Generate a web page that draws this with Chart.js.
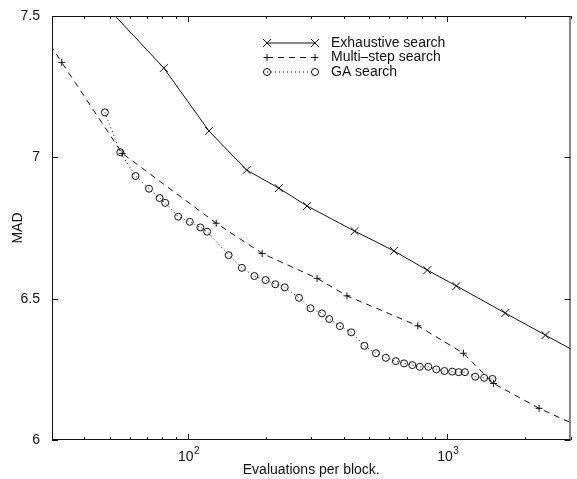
<!DOCTYPE html>
<html>
<head>
<meta charset="utf-8">
<script src="https://cdn.jsdelivr.net/npm/chart.js@4/dist/chart.umd.min.js"></script>
<style>
  html, body { margin: 0; padding: 0; background: #fff; }
</style>
</head>
<body>
<canvas id="chart" width="577" height="479"></canvas>
<script>
// axis ranges and ticks
const xMin = 30, xMax = 3000;
const yMin = 6, yMax = 7.5;
const xTickValues = [30, 40, 50, 60, 70, 80, 90, 100, 200, 300, 400, 500, 600, 700, 800, 900, 1000, 2000, 3000];
const xMajorTicks = [100, 1000];
const xMajorBase = "10";
const xMajorExponents = ["2", "3"];
const yTickValues = [6, 6.5, 7, 7.5];

const seriesNames = ["Exhaustive search", "Multi\u2013step search", "GA search"];

// Exhaustive search (first and last points lie just outside the axes)
const exhaustiveEvals = [49, 81, 121, 169, 225, 289, 441, 625, 841, 1089, 1681, 2401, 3249];
const exhaustiveMad = [7.53, 7.316, 7.093, 6.955, 6.891, 6.828, 6.739, 6.669, 6.601, 6.545, 6.449, 6.371, 6.305];

// Multi-step search
const multiEvals = [28, 32.7, 56, 129, 194, 316, 412, 773, 1159, 1515, 2270, 3200];
const multiMad = [7.43, 7.336, 7.014, 6.767, 6.66, 6.572, 6.51, 6.404, 6.307, 6.2, 6.112, 6.05];

// GA search
const gaEvals = [48, 55, 63, 71, 78, 82, 92, 102, 112, 119, 144, 162, 181, 200, 218, 237, 269, 298, 330, 352,
  387, 428, 481, 533, 582, 636, 684, 736, 787, 848, 911, 979, 1049, 1111, 1175, 1287, 1393, 1500];
const gaMad = [7.159, 7.018, 6.934, 6.889, 6.856, 6.839, 6.79, 6.772, 6.752, 6.737, 6.654, 6.609, 6.58, 6.566,
  6.551, 6.54, 6.503, 6.466, 6.448, 6.428, 6.403, 6.381, 6.333, 6.307, 6.291, 6.279, 6.271, 6.265, 6.259,
  6.259, 6.25, 6.244, 6.242, 6.24, 6.24, 6.224, 6.22, 6.216];

const ink = "#111";
const fontFamily = "'Liberation Sans', Arial, Helvetica, sans-serif";

function toPoints(xs, ys) {
  return xs.map((x, i) => ({ x: x, y: ys[i] }));
}

const styles = [
  { pointStyle: "crossRot", pointRadius: 5.5, borderDash: [] },
  { pointStyle: "cross", pointRadius: 3.5, borderDash: [6, 5] },
  { pointStyle: "circle", pointRadius: 3.5, borderDash: [1, 3] },
];

// frame, inward tick marks, 10^n labels and legend, drawn like the matlab original
const frameAndLegend = {
  id: "frameAndLegend",
  afterDatasetsDraw(chart) {
    const { ctx, chartArea: a, scales } = chart;
    const x = scales.x, y = scales.y;
    ctx.save();
    ctx.strokeStyle = ink;
    ctx.lineWidth = 1;
    ctx.strokeRect(a.left + 0.5, a.top + 0.5, a.right - a.left - 1, a.bottom - a.top - 1);

    ctx.beginPath();
    xTickValues.forEach((v) => {
      const px = Math.round(x.getPixelForValue(v)) + 0.5;
      const len = xMajorTicks.includes(v) ? 6 : 3;
      ctx.moveTo(px, a.bottom); ctx.lineTo(px, a.bottom - len);
      ctx.moveTo(px, a.top); ctx.lineTo(px, a.top + len);
    });
    yTickValues.forEach((v) => {
      const py = Math.round(y.getPixelForValue(v)) + 0.5;
      ctx.moveTo(a.left, py); ctx.lineTo(a.left + 6, py);
      ctx.moveTo(a.right, py); ctx.lineTo(a.right - 6, py);
    });
    ctx.stroke();

    // decade labels with raised exponent
    ctx.fillStyle = ink;
    ctx.textBaseline = "alphabetic";
    ctx.textAlign = "left";
    xMajorTicks.forEach((v, i) => {
      const px = x.getPixelForValue(v);
      ctx.font = "14px " + fontFamily;
      const wb = ctx.measureText(xMajorBase).width;
      ctx.font = "10px " + fontFamily;
      const we = ctx.measureText(xMajorExponents[i]).width;
      const start = px - (wb + we) / 2 + 1;
      ctx.font = "14px " + fontFamily;
      ctx.fillText(xMajorBase, start, a.bottom + 21);
      ctx.font = "10px " + fontFamily;
      ctx.fillText(xMajorExponents[i], start + wb + 0.5, a.bottom + 14);
    });

    // legend
    const x0 = 267, x1 = 315, tx = 331;
    const rows = [43, 57.5, 72];
    ctx.font = "14px " + fontFamily;
    ctx.textBaseline = "middle";
    rows.forEach((ry, i) => {
      const st = styles[i];
      ctx.beginPath();
      ctx.setLineDash(st.borderDash);
      ctx.moveTo(x0, ry); ctx.lineTo(x1, ry);
      ctx.stroke();
      ctx.setLineDash([]);
      [x0, x1].forEach((mx) => {
        ctx.beginPath();
        const r = st.pointRadius;
        if (st.pointStyle === "crossRot") {
          const d = r * 0.707;
          ctx.moveTo(mx - d, ry - d); ctx.lineTo(mx + d, ry + d);
          ctx.moveTo(mx - d, ry + d); ctx.lineTo(mx + d, ry - d);
        } else if (st.pointStyle === "cross") {
          ctx.moveTo(mx - r, ry); ctx.lineTo(mx + r, ry);
          ctx.moveTo(mx, ry - r); ctx.lineTo(mx, ry + r);
        } else {
          ctx.arc(mx, ry, r, 0, Math.PI * 2);
        }
        ctx.stroke();
      });
      ctx.fillText(seriesNames[i], tx, ry);
    });
    ctx.restore();
  },
};

const seriesData = [
  toPoints(exhaustiveEvals, exhaustiveMad),
  toPoints(multiEvals, multiMad),
  toPoints(gaEvals, gaMad),
];

new Chart(document.getElementById("chart"), {
  type: "line",
  data: {
    datasets: seriesNames.map((name, i) => ({
      label: name,
      data: seriesData[i],
      borderColor: ink,
      borderWidth: 1,
      borderDash: styles[i].borderDash,
      pointStyle: styles[i].pointStyle,
      pointRadius: styles[i].pointRadius,
      pointBorderColor: ink,
      pointBorderWidth: 1,
      pointBackgroundColor: "rgba(0,0,0,0)",
      tension: 0,
      fill: false,
    })),
  },
  options: {
    responsive: false,
    animation: false,
    layout: { padding: { top: 16, right: 2, left: 0, bottom: 0 } },
    plugins: { legend: { display: false }, tooltip: { enabled: false } },
    scales: {
      x: {
        type: "logarithmic",
        min: xMin,
        max: xMax,
        afterBuildTicks: (s) => {
          s.ticks = xTickValues.map((v) => ({ value: v, major: xMajorTicks.includes(v) }));
        },
        afterFit: (s) => { s.height = 39; },
        grid: { display: false },
        border: { display: false },
        ticks: { autoSkip: false, maxRotation: 0, callback: () => "" },
        title: {
          display: true,
          text: "Evaluations per block.",
          color: ink,
          font: { family: fontFamily, size: 14 },
          padding: { top: 0, bottom: 0 },
        },
      },
      y: {
        min: yMin,
        max: yMax,
        afterBuildTicks: (s) => {
          s.ticks = yTickValues.map((v) => ({ value: v }));
        },
        afterFit: (s) => { s.width = 52; },
        grid: { display: false },
        border: { display: false },
        ticks: {
          padding: 4,
          color: ink,
          font: { family: fontFamily, size: 14 },
          callback: (v) => String(v),
        },
        title: {
          display: true,
          text: "MAD",
          color: ink,
          font: { family: fontFamily, size: 14 },
          padding: { top: 10, bottom: 0 },
        },
      },
    },
  },
  plugins: [frameAndLegend],
});
</script>
</body>
</html>
